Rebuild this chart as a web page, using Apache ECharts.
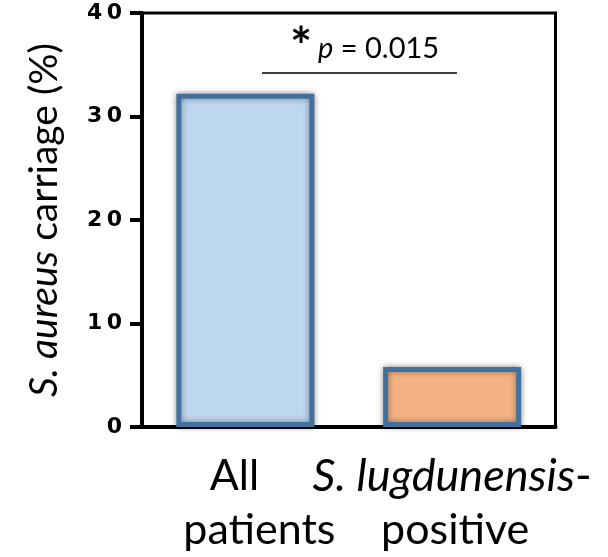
<!DOCTYPE html>
<html>
<head>
<meta charset="utf-8">
<script src="https://cdn.jsdelivr.net/npm/echarts@6/dist/echarts.min.js"></script>
<style>html,body{margin:0;padding:0;background:#fff}#c{width:608px;height:557px}</style>
</head>
<body>
<div id="c"></div>
<script>
const categories = ['All patients', 'S. lugdunensis-positive'];
const carriage = [32.2, 5.8];
const barFills = ['#BDD7EE', '#F4B183'];
const yTicks = [0, 10, 20, 30, 40];
const pText = 'p = 0.015';

const labelFont = 'Lato';
const chart = echarts.init(document.getElementById('c'), null, {renderer: 'canvas'});

function xLabel(v) {
  if (v === categories[0]) return '{a|All}\n{b|patients}';
  return '{i|S. lugdunensis}{n|-}\n{c|positive}';
}

const LH = 54;
const option = {
  animation: false,
  grid: {left: 142, right: 52.5, top: 13, bottom: 130, show: true, borderColor: '#000', borderWidth: 3,
         backgroundColor: 'transparent', containLabel: false, outerBoundsMode: 'none'},
  xAxis: {
    type: 'category',
    data: categories,
    axisLine: {lineStyle: {color: '#000', width: 4}},
    axisTick: {alignWithLabel: true, length: 9, lineStyle: {color: '#000', width: 4}},
    axisLabel: {
      interval: 0,
      margin: 22,
      color: '#000',
      formatter: xLabel,
      lineHeight: LH,
      rich: {
        a: {fontFamily: labelFont, fontSize: 43, lineHeight: LH, color: '#000', padding: [0, 22, 0, 0]},
        b: {fontFamily: labelFont, fontSize: 43, lineHeight: LH, color: '#000', padding: [0, 0, 0, 28]},
        i: {fontFamily: labelFont, fontSize: 45, lineHeight: LH, color: '#000', fontStyle: 'italic'},
        n: {fontFamily: labelFont, fontSize: 45, lineHeight: LH, color: '#000'},
        c: {fontFamily: labelFont, fontSize: 43, lineHeight: LH, color: '#000', padding: [0, 0, 0, 6]}
      }
    }
  },
  yAxis: {
    type: 'value',
    min: yTicks[0],
    max: yTicks[yTicks.length - 1],
    interval: yTicks[1] - yTicks[0],
    splitLine: {show: false},
    axisLine: {show: true, lineStyle: {color: '#000', width: 4}},
    axisTick: {show: true, length: 12, lineStyle: {color: '#000', width: 4}},
    axisLabel: {
      margin: 20,
      color: '#000',
      fontFamily: 'DejaVu Sans',
      fontWeight: 'bold',
      fontSize: 22,
      formatter: v => String(v).split('').join('\u2009')
    },
    name: '{i|S. aureus}{n| carriage (%)}',
    nameLocation: 'middle',
    nameRotate: 90,
    nameGap: 78,
    nameTextStyle: {
      rich: {
        i: {fontFamily: labelFont, fontSize: 39, fontStyle: 'italic', color: '#000'},
        n: {fontFamily: labelFont, fontSize: 39, color: '#000'}
      }
    }
  },
  series: [
    {
      type: 'bar',
      barWidth: 138,
      data: carriage.map((v, i) => ({value: v, itemStyle: {color: barFills[i]}})),
      itemStyle: {borderColor: '#41719C', borderWidth: 5, shadowBlur: 6, shadowColor: 'rgba(0,0,0,0.4)'}
    }
  ],
  graphic: [
    {type: 'line', shape: {x1: 262, y1: 73, x2: 457, y2: 73}, style: {stroke: '#000', lineWidth: 1.5}},
    {type: 'text', x: 301, y: 22, style: {text: '*', font: 'bold 52px Lato', fill: '#000', textAlign: 'center', textVerticalAlign: 'top'}},
    {type: 'text', x: 318, y: 49, style: {
      text: '{i|p}{n|' + pText.slice(1) + '}',
      textVerticalAlign: 'middle',
      rich: {
        i: {fontFamily: labelFont, fontSize: 29, fontStyle: 'italic', fill: '#000'},
        n: {fontFamily: labelFont, fontSize: 29, fill: '#000'}
      }
    }}
  ]
};
chart.setOption(option);
</script>
</body>
</html>
